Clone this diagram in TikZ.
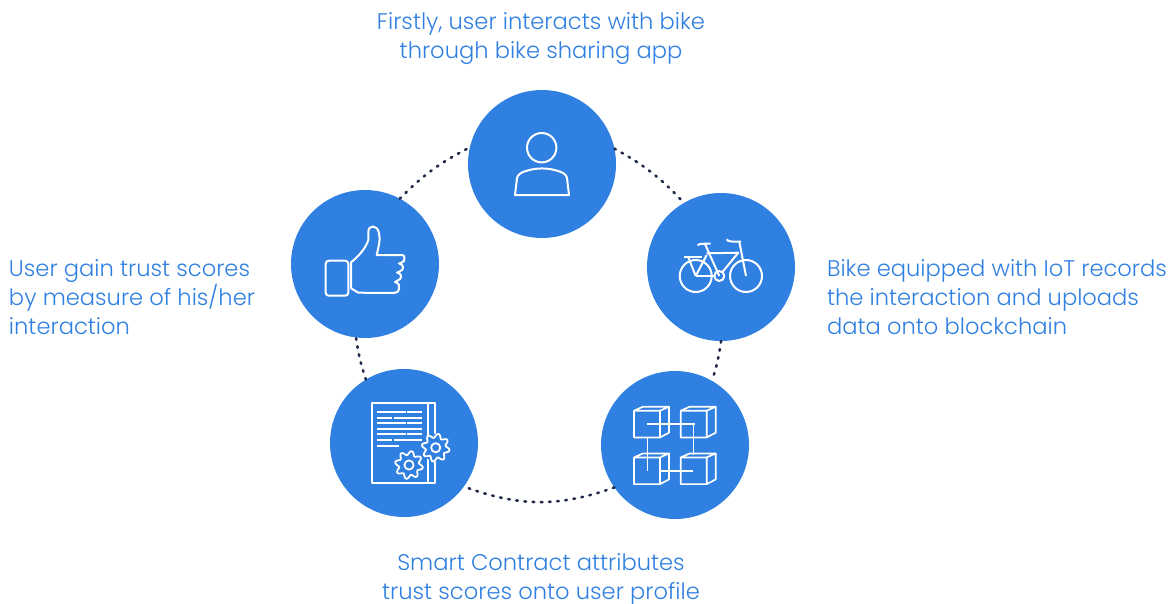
\documentclass[tikz,border=0pt]{standalone}
\usepackage{fontspec}
\setmainfont{Poppins Light}
\definecolor{bblue}{HTML}{3080E2}
\definecolor{tblue}{HTML}{3080E2}
\definecolor{navy}{HTML}{1F2A4A}
\tikzset{
  hub/.style={circle,fill=bblue,minimum size=148pt,inner sep=0pt,outer sep=0pt},
  ring/.style={draw=navy,line width=2.6pt,line cap=round,dash pattern=on 1.6pt off 6.6pt},
  icon/.style={draw=white,line width=2pt,line join=round},
  thin icon/.style={draw=white,line width=1.6pt},
  caption/.style={text=tblue,font=\fontsize{22.6pt}{29pt}\selectfont,inner sep=0pt,outer sep=0pt}
}
\newcommand{\cubeat}[2]{%
  \begin{scope}[shift={(#1,#2)}]
    \draw[icon,line width=1.7pt] (0,4)--(26,4)--(26,30.7)--(0,30.7)--cycle (0,4)--(9,0)--(35,0)--(26,4) (35,0)--(35,26)--(26,30.7);
  \end{scope}}
\newcommand{\gearat}[2]{%
  \fill[bblue] (#1,#2) circle (14);
  \draw[icon,line width=1.8pt,fill=bblue] plot[domain=0:360,samples=145,smooth] ({#1+(12+2*sin(8*\x))*cos(\x)},{#2+(12+2*sin(8*\x))*sin(\x)}) -- cycle;
  \draw[icon,line width=1.8pt] (#1,#2) circle (4.6);}
\begin{document}
\begin{tikzpicture}[x=1pt,y=-1pt]
\useasboundingbox (0,0) rectangle (1174,604);
% hubs
\node[hub] (user) at (542,164) {};
\node[hub] (bike) at (721,267) {};
\node[hub] (chain) at (675,445) {};
\node[hub] (contract) at (404,443) {};
\node[hub] (thumb) at (365,264) {};
% dotted ring
\draw[ring] (user.12) to[bend left=9] (bike.120);
\draw[ring] (bike.-90) to[bend left=5] (chain.60);
\draw[ring] (chain.-145) to[bend left=20] (contract.-36);
\draw[ring] (contract.121) to[bend left=5] (thumb.-97);
\draw[ring] (thumb.62) to[bend left=9] (user.167);
% user icon
\draw[icon] (541.7,147.7) circle (14.7);
\draw[icon] (515,195) -- (517,178) .. controls (518,174) and (522,172) .. (526,171) .. controls (536,167.6) and (548,167.6) .. (558,171) .. controls (562,172) and (566,174) .. (567,178) -- (569,195) -- cycle;
% thumb icon
\draw[icon,rounded corners=3pt] (325.7,260.7) rectangle (348.3,295.7);
\draw[icon] (351,262.3) .. controls (358,257) and (366,248) .. (368.3,240) -- (368.3,231.7) .. controls (368.5,225) and (377,224) .. (379,233) .. controls (381,240) and (378,248) .. (376.7,255) -- (401.7,255) .. controls (405,255) and (405,259) .. (404,261) .. controls (402,263) and (400,263) .. (399,263.5) .. controls (403,264) and (404,268) .. (402,270) .. controls (400,272) and (398,272) .. (397,272.5) .. controls (401,273) and (402,277) .. (400,279) .. controls (398,281) and (396,281) .. (395,282) .. controls (399,283) and (400,286) .. (399,288) .. controls (399,292) and (396,293) .. (394,293) -- (358.3,292.7) -- (351,288.3) -- cycle;
% bike icon
\begin{scope}[icon]
\draw (695.7,276) circle (16);
\draw (746,276) circle (16);
\draw (719.3,276) circle (5);
\draw (695.7,276) -- (714.3,276);
\draw (719.3,276) -- (705,244);
\draw (695.7,276) -- (706.7,255);
\draw (706.7,253.3) -- (738.3,252.7) -- (722.5,272);
\draw (739.3,241.7) -- (746,276);
\draw (697.7,245.5) .. controls (699,243.5) and (701,243.7) .. (710.7,243.7);
\draw (726.7,239.3) .. controls (728,241.5) and (730,241.7) .. (741,241.7);
\draw (684,256.7) -- (701.7,256.7);
\draw (688.3,257.3) -- (695.7,276);
\end{scope}
% contract icon
\draw[icon] (371.7,402.7) rectangle (435,483.3);
\draw[icon] (428.3,402.7) -- (428.3,483.3);
\begin{scope}[thin icon,line width=2pt]
\draw (376.7,412.3)--(405.7,412.3) (407.3,412.3)--(421.7,412.3);
\draw (376.7,417.7)--(391.7,417.7) (394,417.7)--(421.7,417.7);
\draw (376.7,423.3)--(405.7,423.3) (407.3,423.3)--(421.7,423.3);
\draw (376.7,429)--(421.7,429);
\draw (376.7,434.3)--(405.7,434.3) (407.3,434.3)--(421.7,434.3);
\draw (376.7,440)--(391.7,440) (394,440)--(421.7,440);
\draw (376.7,445.7)--(399,445.7);
\end{scope}
\gearat{435.7}{447.7}
\gearat{409}{465}
% blockchain icon
\cubeat{634}{406.7}
\cubeat{680.7}{406.7}
\cubeat{634}{453.4}
\cubeat{680.7}{453.4}
\begin{scope}[thin icon]
\draw (647,424) -- (695,424) (693.3,424) -- (693.3,455);
\draw (647.3,437.4) -- (647.3,470.7);
\draw (660,470.7) -- (693.3,470.7);
\end{scope}
% captions
\node[caption,align=center] (capuser) at (541,38.5) {Firstly, user interacts with bike\\through bike sharing app};
\node[caption,align=left,anchor=west] (capbike) at (827,297.5) {Bike equipped with IoT records\\the interaction and uploads\\data onto blockchain};
\node[caption,align=center] (capcontract) at (541,579.5) {Smart Contract attributes\\trust scores onto user profile};
\node[caption,align=left,anchor=west] (capthumb) at (9,297.5) {User gain trust scores\\by measure of his/her\\interaction};
\end{tikzpicture}
\end{document}
